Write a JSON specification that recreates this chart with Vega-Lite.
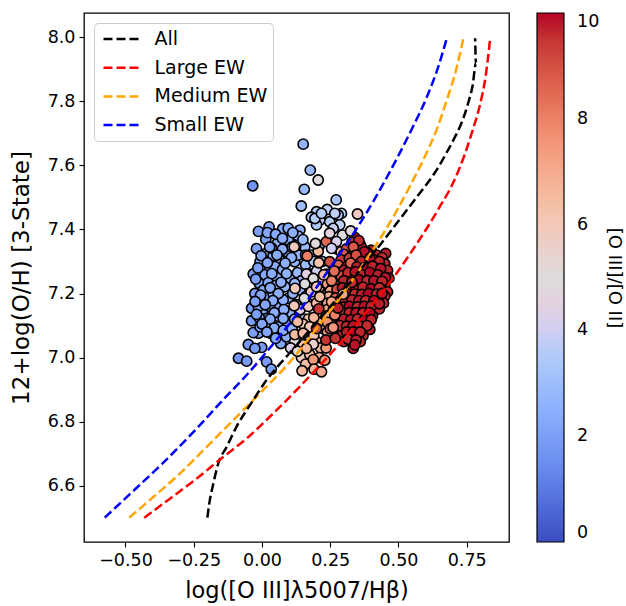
{"$schema":"https://vega.github.io/schema/vega-lite/v6.json","width":425,"height":529,"autosize":"none","padding":{"left":84,"top":13,"right":117,"bottom":64},"background":"white","config":{"font":"DejaVu Sans","view":{"stroke":"black","strokeWidth":1.3}},
"datasets":{"gals":[
{"x":-0.013,"y":7.394,"r":2.0},{"x":0.026,"y":7.408,"r":2.2},{"x":0.014,"y":7.369,"r":2.0},{"x":0.076,"y":7.402,"r":2.3},{"x":0.096,"y":7.404,"r":2.4},{"x":0.139,"y":7.398,"r":2.5},{"x":0.096,"y":7.367,"r":2.6},{"x":0.133,"y":7.379,"r":2.7},{"x":0.056,"y":7.356,"r":2.5},{"x":0.007,"y":7.323,"r":2.3},{"x":0.041,"y":7.317,"r":2.4},{"x":0.066,"y":7.304,"r":2.5},{"x":0.12,"y":7.299,"r":2.7},{"x":0.029,"y":7.278,"r":2.3},{"x":-0.032,"y":7.261,"r":2.0},{"x":0.011,"y":7.258,"r":2.3},{"x":0.054,"y":7.252,"r":2.5},{"x":0.105,"y":7.247,"r":2.7},{"x":-0.01,"y":7.232,"r":2.2},{"x":0.005,"y":7.211,"r":2.3},{"x":0.021,"y":7.187,"r":2.2},{"x":-0.038,"y":7.154,"r":1.9},{"x":0.002,"y":7.143,"r":2.2},{"x":-0.038,"y":7.115,"r":2.0},{"x":0.027,"y":7.098,"r":2.4},{"x":-0.013,"y":7.076,"r":2.1},{"x":-0.05,"y":7.041,"r":1.8},{"x":-0.001,"y":7.032,"r":1.9},{"x":-0.086,"y":6.998,"r":1.7},{"x":-0.056,"y":6.989,"r":1.9},{"x":0.017,"y":6.987,"r":1.9},{"x":0.034,"y":6.964,"r":2.0},{"x":0.069,"y":7.044,"r":2.2},{"x":0.032,"y":7.076,"r":2.3},{"x":-0.032,"y":7.078,"r":2.0},{"x":-0.026,"y":7.029,"r":1.9},{"x":0.06,"y":7.164,"r":2.5},{"x":0.096,"y":7.185,"r":2.7},{"x":0.063,"y":7.128,"r":2.4},{"x":0.102,"y":7.143,"r":2.6},{"x":0.084,"y":7.221,"r":2.6},{"x":0.139,"y":7.211,"r":2.8},{"x":0.157,"y":7.346,"r":2.9},{"x":0.133,"y":7.32,"r":2.7},{"x":0.093,"y":7.33,"r":2.6},{"x":0.048,"y":7.284,"r":2.4},{"x":-0.007,"y":7.299,"r":2.2},{"x":0.023,"y":7.234,"r":2.3},{"x":-0.026,"y":7.2,"r":2.0},{"x":0.041,"y":7.2,"r":2.4},{"x":0.078,"y":7.18,"r":2.5},{"x":0.029,"y":7.159,"r":2.3},{"x":-0.013,"y":7.159,"r":2.1},{"x":0.017,"y":7.122,"r":2.2},{"x":-0.007,"y":7.096,"r":2.1},{"x":0.06,"y":7.096,"r":2.4},{"x":0.096,"y":7.107,"r":2.5},{"x":-0.02,"y":7.34,"r":2.0},{"x":0.035,"y":7.342,"r":2.3},{"x":0.075,"y":7.275,"r":2.5},{"x":0.13,"y":7.265,"r":2.8},{"x":0.16,"y":7.29,"r":3.0},{"x":0.18,"y":7.32,"r":3.2},{"x":0.18,"y":7.26,"r":3.2},{"x":0.15,"y":7.17,"r":2.9},{"x":0.12,"y":7.12,"r":2.9},{"x":0.13,"y":7.07,"r":3.1},{"x":0.09,"y":7.065,"r":2.5},{"x":-0.01,"y":7.125,"r":2.0},{"x":0.05,"y":7.225,"r":2.4},{"x":-0.015,"y":7.28,"r":2.0},{"x":0.11,"y":7.345,"r":2.6},
{"x":0.02,"y":7.39,"r":2.2},{"x":0.05,"y":7.385,"r":2.3},{"x":0.113,"y":7.39,"r":2.5},{"x":0.075,"y":7.372,"r":2.4},{"x":0.028,"y":7.345,"r":2.2},{"x":0.075,"y":7.338,"r":2.5},{"x":0.124,"y":7.35,"r":2.7},{"x":0.15,"y":7.368,"r":2.8},{"x":-0.003,"y":7.318,"r":2.1},{"x":0.055,"y":7.32,"r":2.4},{"x":0.108,"y":7.312,"r":2.6},{"x":0.085,"y":7.295,"r":2.5},{"x":0.02,"y":7.296,"r":2.3},{"x":-0.023,"y":7.245,"r":2.0},{"x":0.036,"y":7.262,"r":2.4},{"x":0.09,"y":7.262,"r":2.6},{"x":0.145,"y":7.24,"r":2.9},{"x":0.12,"y":7.232,"r":2.8},{"x":0.07,"y":7.235,"r":2.5},{"x":0.03,"y":7.218,"r":2.3},{"x":-0.005,"y":7.195,"r":2.2},{"x":0.06,"y":7.2,"r":2.5},{"x":0.113,"y":7.2,"r":2.7},{"x":0.04,"y":7.178,"r":2.4},{"x":-0.025,"y":7.175,"r":2.0},{"x":0.012,"y":7.165,"r":2.2},{"x":0.08,"y":7.15,"r":2.5},{"x":0.125,"y":7.165,"r":2.8},{"x":0.045,"y":7.14,"r":2.4},{"x":-0.02,"y":7.135,"r":2.0},{"x":0.03,"y":7.12,"r":2.3},{"x":0.078,"y":7.122,"r":2.5},{"x":0.0,"y":7.105,"r":2.2},{"x":0.045,"y":7.092,"r":2.4},{"x":0.078,"y":7.085,"r":2.5},{"x":0.018,"y":7.08,"r":2.2},{"x":0.11,"y":7.09,"r":2.7},{"x":0.05,"y":7.06,"r":2.3},{"x":0.155,"y":7.12,"r":3.0},{"x":0.16,"y":7.32,"r":3.2},{"x":0.21,"y":7.35,"r":3.4},{"x":0.19,"y":7.3,"r":3.5},
{"x":0.151,"y":7.666,"r":2.7},{"x":0.177,"y":7.585,"r":2.9},{"x":0.206,"y":7.554,"r":4.9},{"x":-0.034,"y":7.536,"r":1.7},{"x":0.155,"y":7.525,"r":2.8},{"x":0.144,"y":7.473,"r":3.0},{"x":0.272,"y":7.492,"r":3.3},{"x":0.35,"y":7.448,"r":5.8},
{"x":0.2,"y":7.455,"r":3.7},{"x":0.239,"y":7.462,"r":3.8},{"x":0.291,"y":7.45,"r":3.5},{"x":0.181,"y":7.438,"r":3.6},{"x":0.212,"y":7.429,"r":3.9},{"x":0.248,"y":7.424,"r":3.6},{"x":0.279,"y":7.445,"r":3.4},{"x":0.267,"y":7.45,"r":3.8},{"x":0.2,"y":7.414,"r":3.4},{"x":0.194,"y":7.434,"r":3.7},{"x":0.285,"y":7.414,"r":3.8},{"x":0.218,"y":7.45,"r":3.6},{"x":0.261,"y":7.403,"r":3.9},
{"x":0.27,"y":7.34,"r":6.0},{"x":0.2,"y":7.27,"r":4.0},{"x":0.22,"y":7.3,"r":3.8},{"x":0.17,"y":7.23,"r":4.2},{"x":0.14,"y":7.15,"r":4.5},{"x":0.16,"y":7.19,"r":4.8},{"x":0.19,"y":7.15,"r":5.5},{"x":0.21,"y":7.22,"r":6.5},{"x":0.235,"y":7.26,"r":6.8},{"x":0.26,"y":7.29,"r":7.0},{"x":0.29,"y":7.33,"r":6.5},{"x":0.12,"y":7.05,"r":5.0},{"x":0.105,"y":7.03,"r":4.2},{"x":0.145,"y":7.0,"r":5.8},{"x":0.17,"y":7.07,"r":6.3},{"x":0.15,"y":7.04,"r":6.2},{"x":0.17,"y":7.12,"r":6.3},{"x":0.2,"y":7.05,"r":6.6},{"x":0.225,"y":7.09,"r":7.0},{"x":0.215,"y":7.03,"r":6.8},{"x":0.195,"y":7.19,"r":6.5},{"x":0.23,"y":7.19,"r":7.0},{"x":0.215,"y":7.13,"r":6.8},{"x":0.25,"y":7.115,"r":7.3},{"x":0.24,"y":7.2,"r":7.5},{"x":0.27,"y":7.23,"r":7.5},
{"x":0.175,"y":7.01,"r":6.5},{"x":0.21,"y":7.0,"r":7.0},{"x":0.16,"y":6.98,"r":6.4},{"x":0.13,"y":7.02,"r":5.2},{"x":0.19,"y":7.07,"r":6.2},{"x":0.235,"y":7.03,"r":7.5},{"x":0.24,"y":7.08,"r":7.3},{"x":0.205,"y":7.11,"r":6.9},{"x":0.15,"y":7.105,"r":6.0},{"x":0.19,"y":7.125,"r":6.6},{"x":0.17,"y":7.16,"r":5.9},{"x":0.225,"y":7.165,"r":7.0},{"x":0.2,"y":7.17,"r":6.5},{"x":0.18,"y":7.205,"r":5.8},{"x":0.22,"y":7.235,"r":6.8},{"x":0.24,"y":7.23,"r":7.2},{"x":0.25,"y":7.26,"r":7.4},
{"x":0.34,"y":7.375,"r":10},{"x":0.33,"y":7.36,"r":9.7},{"x":0.36,"y":7.352,"r":9.8},{"x":0.31,"y":7.34,"r":9.0},{"x":0.345,"y":7.335,"r":9.6},{"x":0.365,"y":7.343,"r":9.8},{"x":0.4,"y":7.335,"r":9.9},{"x":0.3,"y":7.322,"r":8.8},{"x":0.33,"y":7.318,"r":9.2},{"x":0.385,"y":7.328,"r":10},{"x":0.42,"y":7.32,"r":9.7},{"x":0.453,"y":7.325,"r":9.8},{"x":0.29,"y":7.305,"r":9.5},{"x":0.32,"y":7.31,"r":9.3},{"x":0.35,"y":7.302,"r":9.0},{"x":0.375,"y":7.313,"r":9.7},{"x":0.41,"y":7.305,"r":9.9},{"x":0.44,"y":7.312,"r":9.6},{"x":0.28,"y":7.288,"r":8.5},{"x":0.31,"y":7.283,"r":9.7},{"x":0.335,"y":7.295,"r":10},{"x":0.36,"y":7.285,"r":9.8},{"x":0.39,"y":7.29,"r":9.6},{"x":0.42,"y":7.282,"r":10},{"x":0.45,"y":7.293,"r":9.7},{"x":0.27,"y":7.268,"r":7.8},{"x":0.3,"y":7.272,"r":9.8},{"x":0.33,"y":7.262,"r":10},{"x":0.355,"y":7.272,"r":9.5},{"x":0.38,"y":7.263,"r":10},{"x":0.41,"y":7.27,"r":9.8},{"x":0.44,"y":7.262,"r":9.9},{"x":0.46,"y":7.272,"r":9.7},{"x":0.265,"y":7.248,"r":8.2},{"x":0.29,"y":7.255,"r":9.0},{"x":0.32,"y":7.245,"r":9.9},{"x":0.345,"y":7.252,"r":9.7},{"x":0.37,"y":7.243,"r":10},{"x":0.4,"y":7.25,"r":9.6},{"x":0.43,"y":7.243,"r":9.9},{"x":0.465,"y":7.248,"r":9.8},{"x":0.26,"y":7.232,"r":8.8},{"x":0.285,"y":7.225,"r":9.4},{"x":0.31,"y":7.233,"r":10},{"x":0.335,"y":7.225,"r":9.8},{"x":0.36,"y":7.232,"r":9.9},{"x":0.39,"y":7.225,"r":9.7},{"x":0.42,"y":7.233,"r":10},{"x":0.45,"y":7.225,"r":9.8},{"x":0.25,"y":7.208,"r":7.2},{"x":0.275,"y":7.213,"r":9.0},{"x":0.3,"y":7.205,"r":9.6},{"x":0.33,"y":7.212,"r":10},{"x":0.355,"y":7.204,"r":9.7},{"x":0.38,"y":7.213,"r":9.9},{"x":0.41,"y":7.205,"r":10},{"x":0.44,"y":7.213,"r":9.8},{"x":0.46,"y":7.205,"r":9.7},{"x":0.245,"y":7.19,"r":7.0},{"x":0.27,"y":7.186,"r":8.5},{"x":0.295,"y":7.193,"r":9.5},{"x":0.32,"y":7.185,"r":9.8},{"x":0.35,"y":7.192,"r":10},{"x":0.375,"y":7.185,"r":9.7},{"x":0.4,"y":7.193,"r":9.9},{"x":0.43,"y":7.186,"r":10},{"x":0.45,"y":7.192,"r":9.6},{"x":0.24,"y":7.17,"r":7.0},{"x":0.265,"y":7.165,"r":8.0},{"x":0.29,"y":7.173,"r":9.2},{"x":0.31,"y":7.165,"r":9.7},{"x":0.34,"y":7.172,"r":9.9},{"x":0.365,"y":7.165,"r":10},{"x":0.39,"y":7.172,"r":9.7},{"x":0.42,"y":7.165,"r":9.9},{"x":0.445,"y":7.17,"r":9.7},{"x":0.24,"y":7.15,"r":7.2},{"x":0.26,"y":7.146,"r":8.0},{"x":0.285,"y":7.152,"r":9.3},{"x":0.31,"y":7.145,"r":9.6},{"x":0.33,"y":7.153,"r":9.9},{"x":0.36,"y":7.146,"r":10},{"x":0.385,"y":7.153,"r":9.8},{"x":0.41,"y":7.146,"r":9.9},{"x":0.43,"y":7.152,"r":9.7},{"x":0.235,"y":7.13,"r":7.2},{"x":0.267,"y":7.133,"r":8.0},{"x":0.28,"y":7.125,"r":9.0},{"x":0.305,"y":7.132,"r":9.6},{"x":0.33,"y":7.126,"r":9.8},{"x":0.355,"y":7.133,"r":10},{"x":0.38,"y":7.126,"r":9.7},{"x":0.405,"y":7.13,"r":9.8},{"x":0.24,"y":7.11,"r":7.6},{"x":0.29,"y":7.112,"r":9.4},{"x":0.315,"y":7.105,"r":9.7},{"x":0.34,"y":7.112,"r":9.9},{"x":0.365,"y":7.105,"r":9.8},{"x":0.39,"y":7.11,"r":9.7},{"x":0.25,"y":7.09,"r":9.0},{"x":0.275,"y":7.094,"r":9.6},{"x":0.3,"y":7.088,"r":9.7},{"x":0.325,"y":7.093,"r":10},{"x":0.35,"y":7.088,"r":9.8},{"x":0.375,"y":7.092,"r":9.6},{"x":0.395,"y":7.088,"r":9.8},{"x":0.295,"y":7.072,"r":9.7},{"x":0.32,"y":7.067,"r":9.9},{"x":0.345,"y":7.072,"r":9.8},{"x":0.37,"y":7.068,"r":9.6},{"x":0.3,"y":7.05,"r":9.7},{"x":0.33,"y":7.052,"r":9.9},{"x":0.36,"y":7.05,"r":9.7},{"x":0.334,"y":7.029,"r":9.8},
{"x":0.355,"y":7.365,"r":9.6},{"x":0.375,"y":7.33,"r":9.9},{"x":0.335,"y":7.345,"r":8.8},{"x":0.345,"y":7.32,"r":9.0},{"x":0.365,"y":7.3,"r":9.7},{"x":0.395,"y":7.31,"r":9.9},{"x":0.43,"y":7.3,"r":9.7},{"x":0.325,"y":7.295,"r":8.6},{"x":0.348,"y":7.283,"r":9.8},{"x":0.375,"y":7.28,"r":10},{"x":0.405,"y":7.285,"r":9.7},{"x":0.435,"y":7.278,"r":9.9},{"x":0.315,"y":7.265,"r":9.6},{"x":0.342,"y":7.268,"r":9.9},{"x":0.365,"y":7.258,"r":9.7},{"x":0.395,"y":7.266,"r":10},{"x":0.425,"y":7.258,"r":9.8},{"x":0.452,"y":7.25,"r":9.9},{"x":0.3,"y":7.24,"r":9.7},{"x":0.33,"y":7.24,"r":9.8},{"x":0.355,"y":7.243,"r":10},{"x":0.385,"y":7.24,"r":9.6},{"x":0.41,"y":7.24,"r":9.9},{"x":0.44,"y":7.238,"r":9.7},{"x":0.295,"y":7.218,"r":9.8},{"x":0.32,"y":7.218,"r":9.7},{"x":0.345,"y":7.215,"r":9.9},{"x":0.37,"y":7.22,"r":9.7},{"x":0.4,"y":7.215,"r":10},{"x":0.43,"y":7.218,"r":9.6},{"x":0.31,"y":7.2,"r":9.9},{"x":0.34,"y":7.198,"r":9.6},{"x":0.365,"y":7.197,"r":9.8},{"x":0.39,"y":7.2,"r":10},{"x":0.42,"y":7.198,"r":9.7},{"x":0.44,"y":7.2,"r":9.9},{"x":0.28,"y":7.175,"r":9.4},{"x":0.305,"y":7.178,"r":9.8},{"x":0.33,"y":7.18,"r":9.7},{"x":0.355,"y":7.178,"r":9.9},{"x":0.38,"y":7.178,"r":9.6},{"x":0.41,"y":7.178,"r":10},{"x":0.3,"y":7.158,"r":9.7},{"x":0.32,"y":7.16,"r":10},{"x":0.35,"y":7.158,"r":9.6},{"x":0.375,"y":7.16,"r":9.9},{"x":0.4,"y":7.16,"r":9.7},{"x":0.43,"y":7.168,"r":9.8},{"x":0.295,"y":7.14,"r":9.5},{"x":0.32,"y":7.14,"r":9.7},{"x":0.345,"y":7.14,"r":9.9},{"x":0.37,"y":7.14,"r":9.7},{"x":0.395,"y":7.14,"r":10},{"x":0.3,"y":7.12,"r":9.8},{"x":0.325,"y":7.118,"r":9.9},{"x":0.35,"y":7.12,"r":9.7},{"x":0.375,"y":7.118,"r":10},{"x":0.4,"y":7.118,"r":9.7},{"x":0.285,"y":7.1,"r":9.5},{"x":0.31,"y":7.098,"r":9.7},{"x":0.335,"y":7.1,"r":9.9},{"x":0.36,"y":7.098,"r":9.7},{"x":0.385,"y":7.1,"r":9.6},{"x":0.31,"y":7.08,"r":9.8},{"x":0.335,"y":7.08,"r":10},{"x":0.36,"y":7.08,"r":9.7},{"x":0.315,"y":7.058,"r":9.6},{"x":0.345,"y":7.055,"r":9.8},{"x":0.34,"y":7.04,"r":9.9},
{"x":0.118,"y":7.346,"r":5.8},{"x":0.166,"y":7.317,"r":8.0},{"x":0.206,"y":7.332,"r":6.5},{"x":0.236,"y":7.362,"r":8.5},{"x":0.208,"y":7.296,"r":6.2},{"x":0.196,"y":7.356,"r":4.8},{"x":0.295,"y":7.382,"r":5.0},{"x":0.325,"y":7.395,"r":5.1},{"x":0.248,"y":7.388,"r":4.6},{"x":0.273,"y":7.362,"r":4.2},{"x":0.255,"y":7.341,"r":4.0},{"x":0.248,"y":7.299,"r":9.0},{"x":0.163,"y":7.261,"r":4.5},{"x":0.188,"y":7.247,"r":5.0},{"x":0.157,"y":7.23,"r":5.0},{"x":0.121,"y":7.216,"r":6.0},{"x":0.155,"y":7.185,"r":5.0},{"x":0.118,"y":7.162,"r":6.0},{"x":0.255,"y":7.24,"r":8.0},{"x":0.226,"y":7.258,"r":6.5},{"x":0.212,"y":7.19,"r":6.5},{"x":0.208,"y":7.152,"r":9.5},{"x":0.13,"y":7.112,"r":6.5},{"x":0.175,"y":7.096,"r":6.0},{"x":0.2,"y":7.091,"r":9.0},{"x":0.267,"y":7.133,"r":8.0},{"x":0.261,"y":7.094,"r":7.5},{"x":0.234,"y":7.055,"r":9.5},{"x":0.269,"y":7.06,"r":9.5},{"x":0.12,"y":7.072,"r":6.5},{"x":0.151,"y":7.076,"r":6.5},{"x":0.188,"y":7.042,"r":5.5},{"x":0.163,"y":7.029,"r":6.5},{"x":0.188,"y":6.994,"r":7.5},{"x":0.23,"y":6.992,"r":7.5},{"x":0.147,"y":6.959,"r":6.5},{"x":0.191,"y":6.964,"r":6.8},{"x":0.218,"y":6.956,"r":7.0},{"x":0.297,"y":7.198,"r":7.0},{"x":0.255,"y":7.174,"r":7.0},{"x":0.2,"y":7.221,"r":6.0},{"x":0.278,"y":7.155,"r":9.8},{"x":0.33,"y":7.235,"r":9.6},{"x":0.265,"y":7.27,"r":8.4}
],
"curves":[
{"x":-0.576,"y":6.501,"s":"Small EW"},{"x":-0.483,"y":6.575,"s":"Small EW"},{"x":-0.367,"y":6.668,"s":"Small EW"},{"x":-0.239,"y":6.779,"s":"Small EW"},{"x":-0.141,"y":6.87,"s":"Small EW"},{"x":-0.056,"y":6.946,"s":"Small EW"},{"x":0.017,"y":7.018,"s":"Small EW"},{"x":0.139,"y":7.148,"s":"Small EW"},{"x":0.261,"y":7.294,"s":"Small EW"},{"x":0.37,"y":7.434,"s":"Small EW"},{"x":0.449,"y":7.549,"s":"Small EW"},{"x":0.504,"y":7.637,"s":"Small EW"},{"x":0.553,"y":7.72,"s":"Small EW"},{"x":0.602,"y":7.809,"s":"Small EW"},{"x":0.65,"y":7.918,"s":"Small EW"},{"x":0.677,"y":7.996,"s":"Small EW"},
{"x":-0.486,"y":6.501,"s":"Medium EW"},{"x":-0.397,"y":6.566,"s":"Medium EW"},{"x":-0.3,"y":6.639,"s":"Medium EW"},{"x":-0.202,"y":6.722,"s":"Medium EW"},{"x":-0.105,"y":6.805,"s":"Medium EW"},{"x":-0.02,"y":6.878,"s":"Medium EW"},{"x":0.114,"y":6.998,"s":"Medium EW"},{"x":0.2,"y":7.091,"s":"Medium EW"},{"x":0.297,"y":7.2,"s":"Medium EW"},{"x":0.382,"y":7.305,"s":"Medium EW"},{"x":0.443,"y":7.385,"s":"Medium EW"},{"x":0.498,"y":7.465,"s":"Medium EW"},{"x":0.547,"y":7.543,"s":"Medium EW"},{"x":0.602,"y":7.637,"s":"Medium EW"},{"x":0.644,"y":7.72,"s":"Medium EW"},{"x":0.677,"y":7.803,"s":"Medium EW"},{"x":0.711,"y":7.897,"s":"Medium EW"},{"x":0.738,"y":7.996,"s":"Medium EW"},
{"x":-0.2,"y":6.501,"s":"All"},{"x":-0.193,"y":6.545,"s":"All"},{"x":-0.178,"y":6.608,"s":"All"},{"x":-0.16,"y":6.67,"s":"All"},{"x":-0.129,"y":6.722,"s":"All"},{"x":-0.093,"y":6.785,"s":"All"},{"x":-0.044,"y":6.852,"s":"All"},{"x":0.017,"y":6.93,"s":"All"},{"x":0.1,"y":7.013,"s":"All"},{"x":0.2,"y":7.11,"s":"All"},{"x":0.3,"y":7.21,"s":"All"},{"x":0.38,"y":7.295,"s":"All"},{"x":0.456,"y":7.377,"s":"All"},{"x":0.517,"y":7.445,"s":"All"},{"x":0.577,"y":7.512,"s":"All"},{"x":0.632,"y":7.575,"s":"All"},{"x":0.675,"y":7.637,"s":"All"},{"x":0.705,"y":7.685,"s":"All"},{"x":0.73,"y":7.73,"s":"All"},{"x":0.754,"y":7.79,"s":"All"},{"x":0.772,"y":7.85,"s":"All"},{"x":0.784,"y":7.918,"s":"All"},{"x":0.781,"y":7.996,"s":"All"},
{"x":-0.431,"y":6.501,"s":"Large EW"},{"x":-0.336,"y":6.561,"s":"Large EW"},{"x":-0.239,"y":6.623,"s":"Large EW"},{"x":-0.141,"y":6.691,"s":"Large EW"},{"x":-0.056,"y":6.748,"s":"Large EW"},{"x":0.023,"y":6.811,"s":"Large EW"},{"x":0.139,"y":6.91,"s":"Large EW"},{"x":0.2,"y":6.965,"s":"Large EW"},{"x":0.285,"y":7.044,"s":"Large EW"},{"x":0.382,"y":7.143,"s":"Large EW"},{"x":0.492,"y":7.262,"s":"Large EW"},{"x":0.541,"y":7.322,"s":"Large EW"},{"x":0.59,"y":7.385,"s":"Large EW"},{"x":0.651,"y":7.47,"s":"Large EW"},{"x":0.699,"y":7.543,"s":"Large EW"},{"x":0.742,"y":7.632,"s":"Large EW"},{"x":0.772,"y":7.71,"s":"Large EW"},{"x":0.797,"y":7.783,"s":"Large EW"},{"x":0.821,"y":7.887,"s":"Large EW"},{"x":0.836,"y":7.996,"s":"Large EW"}
]},
"encoding":{
"x":{"field":"x","type":"quantitative","scale":{"domain":[-0.652,0.905],"nice":false,"zero":false},"axis":{"values":[-0.5,-0.25,0,0.25,0.5,0.75],"format":".2f","grid":false,"domain":false,"tickColor":"black","tickSize":5,"tickWidth":1.1,"labelColor":"black","labelFontSize":17.5,"labelPadding":4,"title":"log([O III]λ5007/Hβ)","titleFontSize":22.5,"titleFontWeight":"normal","titleColor":"black","titlePadding":11}},
"y":{"field":"y","type":"quantitative","scale":{"domain":[6.425,8.075],"nice":false,"zero":false},"axis":{"values":[6.6,6.8,7.0,7.2,7.4,7.6,7.8,8.0],"format":".1f","grid":false,"domain":false,"tickColor":"black","tickSize":5,"tickWidth":1.1,"labelColor":"black","labelFontSize":17.5,"labelPadding":4,"title":"12+log(O/H) [3-State]","titleFontSize":23,"titleFontWeight":"normal","titleColor":"black","titlePadding":14}}
},
"layer":[
{"data":{"name":"gals"},"mark":{"type":"point","shape":"circle","filled":true,"size":105,"opacity":1,"stroke":"black","strokeWidth":1.6},
"encoding":{"fill":{"field":"r","type":"quantitative","scale":{"domain":[0,1.25,2.5,3.75,5,6.25,7.5,8.75,10],"range":["#3b4cc0","#6485ec","#8db0fe","#b9d0f9","#dddcdc","#f5c4ac","#f4987a","#dc5d4a","#b40426"]},
"legend":{"orient":"none","legendX":453,"legendY":0,"direction":"vertical","type":"gradient","title":"[O III]/[O II]","titleOrient":"right","titleFontSize":18,"titleFontWeight":"normal","titleColor":"black","titlePadding":6,"gradientLength":529,"gradientThickness":27,"gradientStrokeColor":"black","gradientStrokeWidth":1.2,"values":[0,2,4,6,8,10],"labelFontSize":17.5,"labelColor":"black","labelOffset":13,"labelOverlap":false,"encoding":{"labels":{"update":{"baseline":{"value":"middle"}}},"title":{"update":{"angle":{"value":270},"align":{"value":"center"},"baseline":{"value":"middle"}}}}}}}},
{"data":{"name":"curves"},"mark":{"type":"line","strokeWidth":2.5,"strokeDash":[9,4],"interpolate":"monotone"},
"encoding":{"order":{"field":"y","type":"quantitative"},"stroke":{"field":"s","type":"nominal","scale":{"domain":["All","Large EW","Medium EW","Small EW"],"range":["black","red","orange","blue"]},
"legend":{"orient":"none","legendX":10,"legendY":10,"title":null,"symbolType":"M-2,0L2,0","symbolSize":361,"symbolOffset":12.5,"symbolStrokeWidth":2.5,"symbolDash":[9,4],"labelFontSize":19,"labelColor":"black","labelOffset":21,"rowPadding":7.7,"padding":5,"cornerRadius":4,"strokeColor":"#cccccc","fillColor":"white"}}}}
],
"resolve":{"legend":{"fill":"independent"}}
}
